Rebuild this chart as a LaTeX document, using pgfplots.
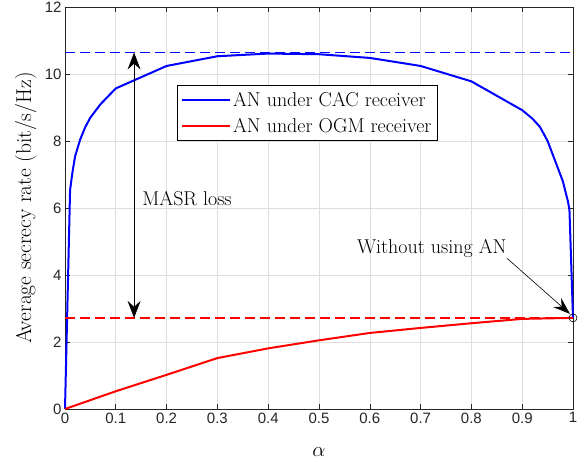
\documentclass[border=0pt]{standalone}
\usepackage{pgfplots}
\pgfplotsset{compat=1.18}
\usepackage{fontspec}
\usetikzlibrary{arrows.meta}
\newfontfamily\arialfont{Liberation Sans}
\definecolor{axgray}{rgb}{0.15,0.15,0.15}
\definecolor{gridgray}{rgb}{0.87,0.87,0.87}
\definecolor{pureblue}{rgb}{0,0,1}
\definecolor{purered}{rgb}{1,0,0}
\begin{document}
\begin{tikzpicture}
\begin{axis}[
  scale only axis, width=508pt, height=402pt,
  at={(0,0)}, anchor=south west,
  xmin=0, xmax=1, ymin=0, ymax=12,
  xtick={0,0.1,0.2,0.3,0.4,0.5,0.6,0.7,0.8,0.9,1},
  xticklabels={0,0.1,0.2,0.3,0.4,0.5,0.6,0.7,0.8,0.9,1},
  ytick={0,2,4,6,8,10,12},
  yticklabels={0,2,4,6,8,10,12},
  grid=major,
  major grid style={gridgray, line width=0.6pt},
  axis line style={axgray, line width=0.6pt},
  every tick/.style={axgray, line width=0.6pt},
  major tick length=5pt,
  tick align=inside,
  ticklabel style={font=\arialfont\fontsize{15}{18}\selectfont, text=axgray},
  /pgf/number format/assume math mode=true,
  xlabel={$\alpha$},
  ylabel={Average secrecy rate (bit/s/Hz)},
  xlabel style={font=\fontsize{21}{25}\selectfont, at={(axis description cs:0.5,-0.107)}, anchor=center},
  ylabel style={font=\fontsize{21.5}{25}\selectfont, at={(axis description cs:-0.077,0.5)}, anchor=center},
  legend style={at={(axis cs:0.22,9.67)}, anchor=north west, draw=black, fill=white,
    line width=0.6pt, font=\fontsize{20}{24}\selectfont, inner xsep=4pt, inner ysep=5pt,
    row sep=6pt},
  legend cell align=left,
  legend image code/.code={\draw[#1, line width=2pt] (0pt,0pt) -- (48pt,0pt);},
  clip=false,
]
% blue dashed reference line
\addplot[color=pureblue, line width=1pt, dash pattern=on 10pt off 5pt, forget plot] coordinates {(0,10.64) (1,10.64)};
% blue curve
\addplot[draw=pureblue, line width=2pt] coordinates {
(0,0) (0.01,6.54) (0.015,7.1) (0.02,7.55) (0.03,8.05) (0.04,8.42) (0.05,8.7) (0.07,9.1) (0.1,9.57)
(0.2,10.24) (0.3,10.53) (0.4,10.61) (0.5,10.59) (0.6,10.48) (0.7,10.24)
(0.8,9.78) (0.9,8.92) (0.92,8.67) (0.935,8.42) (0.95,8.0) (0.96,7.6)
(0.97,7.2) (0.98,6.8) (0.99,6.2) (0.993,5.95) (1.0,2.72)
};
\addlegendentry{AN under CAC receiver}
% red curve
\addplot[draw=purered, line width=2pt] coordinates {
(0,0) (0.1,0.53) (0.2,1.02) (0.3,1.52) (0.4,1.81) (0.5,2.05) (0.6,2.27)
(0.7,2.42) (0.8,2.56) (0.9,2.69) (1.0,2.72)
};
\addlegendentry{AN under OGM receiver}
% circle marker
\addplot[black, only marks, mark=o, mark size=4pt, line width=0.6pt, forget plot] coordinates {(1,2.72)};
% red dashed reference line
\addplot[draw={rgb,1:red,1;green,0;blue,0}, line width=1.6pt, dash pattern=on 10pt off 5pt, forget plot] coordinates {(0,2.72) (1,2.72)};
% annotations
\draw[{Stealth[length=17pt,width=13pt,inset=6pt]}-{Stealth[length=17pt,width=13pt,inset=6pt]}, line width=0.8pt]
  (axis cs:0.136,2.72) -- (axis cs:0.136,10.64);
\node[anchor=west, font=\fontsize{20}{24}\selectfont, inner sep=0pt] at (axis cs:0.152,6.27) {MASR loss};
\node[font=\fontsize{20}{24}\selectfont, inner sep=0pt] at (axis cs:0.722,4.78) {Without using AN};
\draw[-{Stealth[length=17pt,width=12pt,inset=6pt]}, line width=0.6pt]
  (axis cs:0.87,4.5) -- (axis cs:0.994,2.84);
\end{axis}
\pgfresetboundingbox
\useasboundingbox (-65pt,-52pt) rectangle (519pt,409pt);
\end{tikzpicture}
\end{document}
